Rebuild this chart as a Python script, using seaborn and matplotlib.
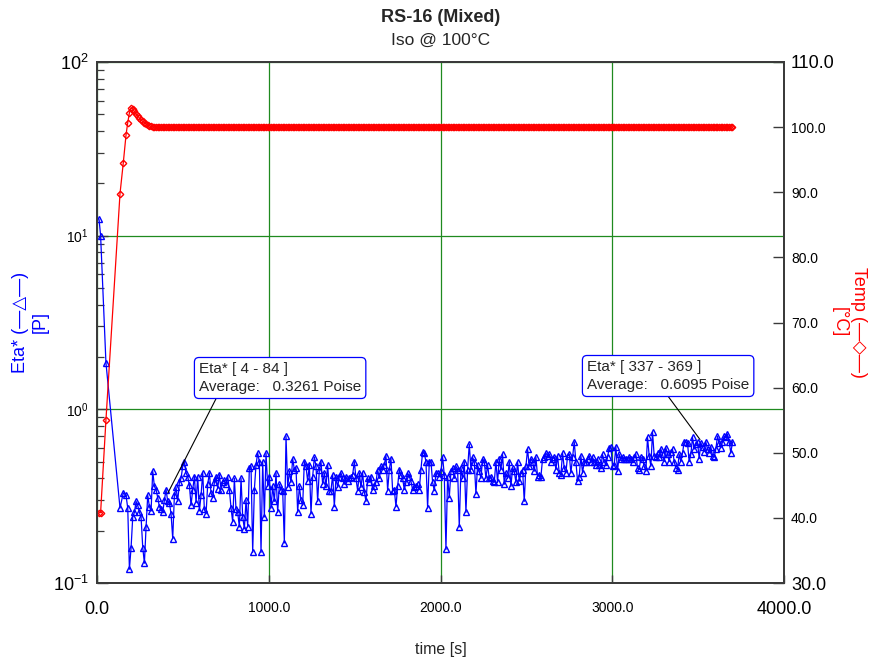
import numpy as np
import pandas as pd
import matplotlib
matplotlib.use("Agg")
import matplotlib.pyplot as plt
import seaborn as sns

# ---------------- data ----------------
T_EARLY = [12, 21, 52, 134, 153, 169]   # irregular first sampling times [s]
T_REG_START = 179                        # then regular sampling
DT = 9.7                                 # sampling interval [s]

ETA = [
    12.4, 10.0, 1.86,
    0.27, 0.33, 0.32, 0.27, 0.12, 0.16, 0.24, 0.255, 0.295, 0.28,
    0.255, 0.24, 0.16, 0.13, 0.21, 0.32, 0.275, 0.26, 0.44, 0.36,
    0.345, 0.31, 0.275, 0.265, 0.255, 0.30, 0.345, 0.295, 0.29, 0.25,
    0.18, 0.32, 0.355, 0.295, 0.38, 0.40, 0.47, 0.50, 0.43, 0.41,
    0.365, 0.28, 0.345, 0.41, 0.29, 0.41, 0.26, 0.32, 0.43, 0.265,
    0.25, 0.37, 0.43, 0.33, 0.31, 0.38, 0.41, 0.35, 0.42, 0.345,
    0.38, 0.39, 0.37, 0.41, 0.345, 0.27, 0.225, 0.40, 0.265, 0.255,
    0.21, 0.40, 0.24, 0.205, 0.30, 0.21, 0.46, 0.47, 0.15, 0.345,
    0.48, 0.56, 0.50, 0.15, 0.50, 0.24, 0.56,
    0.36, 0.41, 0.27, 0.36, 0.295, 0.43, 0.255, 0.37, 0.345, 0.34,
    0.17, 0.70, 0.355, 0.44, 0.38, 0.52, 0.45, 0.46, 0.255, 0.36,
    0.30, 0.28, 0.50, 0.47, 0.385, 0.48, 0.25, 0.41, 0.53, 0.47,
    0.295, 0.45, 0.50, 0.37, 0.43, 0.36, 0.48, 0.34, 0.34, 0.42,
    0.275, 0.41, 0.355, 0.41, 0.43, 0.40, 0.37, 0.41, 0.385, 0.40,
    0.41, 0.42, 0.50, 0.40, 0.34, 0.43, 0.355, 0.43, 0.335, 0.295,
    0.40, 0.38, 0.41, 0.345, 0.36, 0.38, 0.45, 0.40, 0.47, 0.45,
    0.48, 0.54, 0.34, 0.45, 0.52, 0.34, 0.345, 0.275, 0.36, 0.45,
    0.42, 0.40, 0.345, 0.38, 0.43, 0.41, 0.385, 0.345, 0.355, 0.36,
    0.37, 0.345, 0.45, 0.57, 0.56, 0.50, 0.27, 0.50, 0.50, 0.38,
    0.34, 0.43, 0.43, 0.41, 0.44,
    0.53, 0.42, 0.156, 0.41, 0.31, 0.44, 0.46, 0.40, 0.47, 0.45,
    0.21, 0.46, 0.40, 0.50, 0.255, 0.45, 0.63, 0.45, 0.53, 0.50,
    0.325, 0.48, 0.44, 0.40, 0.52, 0.50, 0.40, 0.48, 0.40, 0.41,
    0.385, 0.38, 0.50, 0.38, 0.52, 0.45, 0.55, 0.37, 0.43, 0.40,
    0.50, 0.36, 0.46, 0.44, 0.38, 0.50, 0.385, 0.43, 0.45, 0.295,
    0.47, 0.59, 0.47, 0.52, 0.50, 0.44, 0.53, 0.41, 0.42, 0.41,
    0.52, 0.53, 0.56, 0.54, 0.55, 0.50, 0.52, 0.53, 0.45, 0.54,
    0.43, 0.42, 0.56, 0.46, 0.43, 0.54, 0.55, 0.43, 0.53, 0.65,
    0.50, 0.385, 0.41, 0.54, 0.43, 0.50, 0.50, 0.52, 0.54, 0.50,
    0.53, 0.50, 0.48, 0.52, 0.48, 0.46, 0.55, 0.50, 0.48, 0.53,
    0.60, 0.61, 0.47,
    0.48, 0.61, 0.44, 0.55, 0.52, 0.53, 0.52, 0.52, 0.52, 0.53,
    0.52, 0.50, 0.53, 0.55, 0.46, 0.45, 0.53, 0.52, 0.47, 0.44,
    0.69, 0.54, 0.47, 0.74, 0.54, 0.53, 0.56, 0.53, 0.59, 0.55,
    0.50, 0.60, 0.55, 0.50, 0.57, 0.59, 0.50, 0.46, 0.45, 0.55,
    0.50, 0.56, 0.65, 0.65, 0.64, 0.50, 0.55, 0.69, 0.59, 0.63,
    0.65, 0.52, 0.64, 0.61, 0.57, 0.65, 0.59, 0.56, 0.61, 0.54,
    0.53, 0.59, 0.70, 0.64, 0.60, 0.65, 0.70, 0.69, 0.72, 0.65,
    0.56, 0.65,
]

TEMP_RAMP = [40.8, 40.8, 55.0, 89.8, 94.5, 98.8, 100.7, 102.2, 103.0, 102.8,
             102.4, 102.0, 101.7, 101.4, 101.1, 100.9, 100.7, 100.5, 100.3,
             100.2, 100.1, 100.05]
TEMP_HOLD = 100.0   # isothermal set point held for the rest of the run

TITLE = "RS-16 (Mixed)"
SUBTITLE = "Iso @ 100°C"
X_TICKS = [0, 1000, 2000, 3000, 4000]
Y_LEFT_TICKS = [0.1, 1, 10, 100]
Y_LEFT_LABELS = [r"$\mathregular{10^{-1}}$", r"$\mathregular{10^{0}}$",
                 r"$\mathregular{10^{1}}$", r"$\mathregular{10^{2}}$"]
Y_RIGHT_TICKS = [30, 40, 50, 60, 70, 80, 90, 100, 110]

ANN1_TEXT = "Eta* [ 4 - 84 ]\nAverage:   0.3261 Poise"
ANN1_POINT = (413, 0.33)
ANN2_TEXT = "Eta* [ 337 - 369 ]\nAverage:   0.6095 Poise"
ANN2_POINT = (3511, 0.67)

# ---------------- build frame ----------------
n = len(ETA)
time = np.concatenate([np.array(T_EARLY, float),
                       T_REG_START + DT * np.arange(n - len(T_EARLY))])
temp = np.array(TEMP_RAMP + [TEMP_HOLD] * (n - len(TEMP_RAMP)))
df = pd.DataFrame({"time": time, "eta": ETA, "temp": temp})

# ---------------- style ----------------
sns.set_style("ticks")
plt.rcParams["font.family"] = ["Liberation Sans", "DejaVu Sans"]

W, H = 870, 661
fig = plt.figure(figsize=(W / 100, H / 100), dpi=100)
L, R, T, B = 97, 784, 62, 583
ax = fig.add_axes([L / W, 1 - B / H, (R - L) / W, (B - T) / H])
ax2 = ax.twinx()

GREEN = "#1f8a1f"
SPINE = "#3a3a3a"

sns.lineplot(data=df, x="time", y="eta", ax=ax, color="blue", lw=0.9,
             marker="^", markersize=4.8, markerfacecolor="none",
             markeredgecolor="blue", markeredgewidth=1.0,
             estimator=None, sort=False)
sns.lineplot(data=df, x="time", y="temp", ax=ax2, color="red", lw=0.9,
             marker="D", markersize=3.3, markerfacecolor="none",
             markeredgecolor="red", markeredgewidth=1.0,
             estimator=None, sort=False)

ax.set_yscale("log")
ax.set_xlim(0, 4000)
ax.set_ylim(0.1, 100)
ax2.set_ylim(30, 110)

ax.set_xticks(X_TICKS)
ax.set_xticklabels([f"{v:.1f}" for v in X_TICKS])
ax.set_yticks(Y_LEFT_TICKS)
ax.set_yticklabels(Y_LEFT_LABELS)
ax2.set_yticks(Y_RIGHT_TICKS)
ax2.set_yticklabels([f"{v:.1f}" for v in Y_RIGHT_TICKS])

ax.grid(True, which="major", color=GREEN, lw=0.9)
ax.grid(False, which="minor")
ax.set_axisbelow(True)

ax.tick_params(axis="x", direction="in", length=6, width=1, color=SPINE, pad=13)
ax.tick_params(axis="y", which="major", direction="in", length=8, width=1,
               color=SPINE, pad=6)
ax.tick_params(axis="y", which="minor", direction="in", length=5, width=0.9,
               color=SPINE)
ax2.tick_params(axis="y", direction="in", length=8, width=1, color=SPINE, pad=5)

for a in (ax, ax2):
    for s in a.spines.values():
        s.set_color(SPINE)
        s.set_linewidth(1.3)

SMALL, LARGE = 10, 13
for lbls in (ax.get_xticklabels(), ax.get_yticklabels(), ax2.get_yticklabels()):
    lbls = list(lbls)
    for i, t in enumerate(lbls):
        t.set_fontsize(LARGE if i in (0, len(lbls) - 1) else SMALL)
        t.set_color("black")

ax.set_xlabel("time [s]", fontsize=11.5)
ax.xaxis.set_label_coords(0.5, -0.113)
ax.set_ylabel("")
ax2.set_ylabel("")

fig.text(30 / W, 1 - 322 / H, "Eta* (—△—)\n[P]", color="blue", fontsize=13,
         rotation=90, ha="center", va="center", multialignment="center")
fig.text(849 / W, 1 - 322 / H, "Temp (—◇—)\n[°C]", color="red", fontsize=13,
         rotation=270, ha="center", va="center", multialignment="center")

fig.text(441 / W, 1 - 18 / H, TITLE, fontsize=13, fontweight="bold",
         ha="center", va="center")
fig.text(441 / W, 1 - 40 / H, SUBTITLE, fontsize=12.5, ha="center", va="center")

bbox = dict(boxstyle="round,pad=0.3,rounding_size=0.3", fc="white",
            ec="blue", lw=0.9)
ax.annotate(ANN1_TEXT, xy=ANN1_POINT, xycoords="data",
            xytext=(199, H - 378), textcoords="figure pixels",
            fontsize=11, ha="left", va="center", linespacing=1.35,
            bbox=bbox,
            arrowprops=dict(arrowstyle="-", color="black", lw=0.8,
                            relpos=(0.12, 0), shrinkA=0, shrinkB=0))
ax.annotate(ANN2_TEXT, xy=ANN2_POINT, xycoords="data",
            xytext=(587, H - 376), textcoords="figure pixels",
            fontsize=11, ha="left", va="center", linespacing=1.35,
            bbox=bbox,
            arrowprops=dict(arrowstyle="-", color="black", lw=0.8,
                            relpos=(0.48, 0), shrinkA=0, shrinkB=0))

fig.savefig("out.png", dpi=100)
